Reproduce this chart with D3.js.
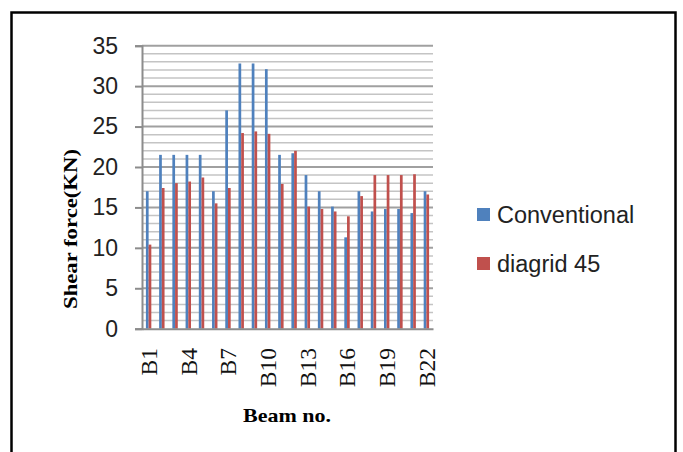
<!DOCTYPE html>
<html>
<head>
<meta charset="utf-8">
<script src="https://cdn.jsdelivr.net/npm/d3@7"></script>
<style>
html,body{margin:0;padding:0;background:#fff;}
svg{display:block;}
</style>
</head>
<body>
<svg id="chart" width="683" height="452"></svg>
<script>
const categories = ["B1","B2","B3","B4","B5","B6","B7","B8","B9","B10","B11","B12","B13","B14","B15","B16","B17","B18","B19","B20","B21","B22"];
const conventional = [17.0,21.5,21.5,21.5,21.5,17.0,27.0,32.8,32.8,32.1,21.5,21.7,19.0,17.0,15.1,11.3,17.0,14.5,14.8,14.8,14.3,17.0];
const diagrid45 = [10.4,17.4,18.0,18.2,18.7,15.5,17.4,24.2,24.4,24.1,17.9,22.0,15.1,14.8,14.5,13.9,16.4,19.0,19.0,19.0,19.1,16.6];
const seriesNames = ["Conventional","diagrid 45"];
const seriesColors = ["#4f81bd","#c0504d"];
const xTickLabels = ["B1","B4","B7","B10","B13","B16","B19","B22"];
const yTicks = [0,5,10,15,20,25,30,35];
const yTitle = "Shear force(KN)";
const xTitle = "Beam no.";

(function(){
const svg = d3.select("#chart");

// outer frame
svg.append("rect").attr("x",11.5).attr("y",12.5).attr("width",664).attr("height",470)
  .attr("fill","none").attr("stroke","#000").attr("stroke-width",2.5);

const pL = 142, pR = 433, pT = 45.7, pB = 328.7;
const x = d3.scaleBand().domain(categories).range([pL,pR]).padding(0);
const y = d3.scaleLinear().domain([0,35]).range([pB,pT]);
const groupW = x.bandwidth()*0.41;
const xs = d3.scaleBand().domain(seriesNames).range([0,groupW]).padding(0);

// gridlines
const minor = d3.range(0,36).filter(v => v % 5 !== 0);
svg.append("g").selectAll("line").data(minor).join("line")
  .attr("x1",pL).attr("x2",pR).attr("y1",d=>y(d)).attr("y2",d=>y(d))
  .attr("stroke","#c4c4c4").attr("stroke-width",1.5);
svg.append("g").selectAll("line").data(yTicks.filter(v=>v>0)).join("line")
  .attr("x1",pL).attr("x2",pR).attr("y1",d=>y(d)).attr("y2",d=>y(d))
  .attr("stroke","#a0a0a0").attr("stroke-width",2);

// bars
const data = categories.map((c,i)=>({c, vals:[conventional[i], diagrid45[i]]}));
const groups = svg.append("g").selectAll("g").data(data).join("g")
  .attr("transform", d => `translate(${x(d.c) + (x.bandwidth()-groupW)/2},0)`);
groups.selectAll("rect").data(d => d.vals.map((v,k)=>({k,v}))).join("rect")
  .attr("x", d => xs(seriesNames[d.k]))
  .attr("width", xs.bandwidth())
  .attr("y", d => y(d.v))
  .attr("height", d => y(0)-y(d.v))
  .attr("fill", d => seriesColors[d.k]);

// y axis
const yAxis = svg.append("g").attr("transform",`translate(${pL},0)`)
  .call(d3.axisLeft(y).tickValues(yTicks).tickSize(7).tickPadding(17).tickFormat(d3.format("d")));
yAxis.select(".domain").attr("stroke","#8c8c8c").attr("stroke-width",2);
yAxis.selectAll(".tick line").attr("stroke","#8c8c8c").attr("stroke-width",2);
yAxis.selectAll(".tick text").attr("font-family","'Liberation Sans', Arial, sans-serif")
  .attr("font-size",23).attr("fill","#222");

// x axis line
const xAxis = svg.append("g").attr("transform",`translate(0,${pB})`)
  .call(d3.axisBottom(x).tickValues(xTickLabels).tickSize(0).tickPadding(0));
xAxis.select(".domain").attr("stroke","#8c8c8c").attr("stroke-width",2);
xAxis.selectAll(".tick text")
  .attr("font-family","'Liberation Serif', 'Times New Roman', serif")
  .attr("font-size",23.5).attr("fill","#111")
  .attr("text-anchor","end")
  .attr("x",0).attr("y",0).attr("dy","0.35em")
  .attr("transform",`translate(0,${348-pB}) rotate(-90)`);

// titles
svg.append("text").attr("transform","translate(77,229) rotate(-90)")
  .attr("text-anchor","middle")
  .attr("font-family","'Liberation Serif', 'Times New Roman', serif")
  .attr("font-weight","bold").attr("font-size",19)
  .attr("textLength",160).attr("lengthAdjust","spacingAndGlyphs")
  .text(yTitle);
svg.append("text").attr("x",287).attr("y",422)
  .attr("text-anchor","middle")
  .attr("font-family","'Liberation Serif', 'Times New Roman', serif")
  .attr("font-weight","bold").attr("font-size",19)
  .attr("textLength",88).attr("lengthAdjust","spacingAndGlyphs")
  .text(xTitle);

// legend
const legY = [215, 264];
const leg = svg.append("g").selectAll("g").data(seriesNames).join("g")
  .attr("transform",(d,i)=>`translate(477,${legY[i]})`);
leg.append("rect").attr("x",0).attr("y",-7).attr("width",13).attr("height",13)
  .attr("fill",(d,i)=>seriesColors[i]);
leg.append("text").attr("x",20).attr("y",0).attr("dy","0.35em")
  .attr("font-family","'Liberation Sans', Arial, sans-serif")
  .attr("font-size",23.5).attr("fill","#222")
  .text(d=>d);
})();
</script>
</body>
</html>
